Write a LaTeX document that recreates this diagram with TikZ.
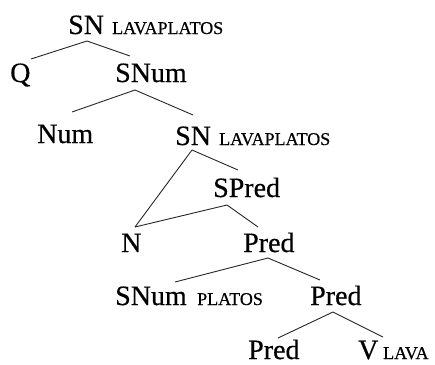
\documentclass[tikz,border=0pt]{standalone}
\usepackage{fontspec}
\setmainfont{Liberation Serif}
\newfontfamily\treefont{Liberation Serif}[FakeBold=0.5]
\begin{document}
\begin{tikzpicture}[x=1pt,y=-1pt,
  lab/.style={inner sep=0pt,anchor=base west,font=\treefont\fontsize{28}{30}\selectfont,text=black},
  sub/.style={inner sep=0pt,anchor=base west,font=\treefont\fontsize{18}{20}\selectfont,text=black},
  edge/.style={draw=black!85,line width=0.9pt}]
\useasboundingbox (0,0) rectangle (435,364);
% nodes
\node[lab] (sn1) at (68,34) {SN};
\node[sub] (sn1s) at (112,34) {LAVAPLATOS};
\node[lab] (q) at (10,82) {Q};
\node[lab] (snum1) at (115,82) {SNum};
\node[lab] (num) at (37,143) {Num};
\node[lab] (sn2) at (175,145) {SN};
\node[sub] (sn2s) at (219,145) {LAVAPLATOS};
\node[lab] (spred) at (213,197) {SPred};
\node[lab] (n) at (121,252) {N};
\node[lab] (pred1) at (243,252) {Pred};
\node[lab] (snum2) at (115,305) {SNum};
\node[sub] (snum2s) at (197,305) {PLATOS};
\node[lab] (pred2) at (310,305) {Pred};
\node[lab] (pred3) at (248,359) {Pred};
\node[lab] (v) at (358,359) {V};
\node[sub] (vs) at (383,359) {LAVA};
% edges
\draw[edge] ([shift={(19,7)}]sn1.base west) -- ([shift={(21,-23)}]q.base west);
\draw[edge] ([shift={(19,7)}]sn1.base west) -- ([shift={(15,-26)}]snum1.base west);
\draw[edge] ([shift={(20,8)}]snum1.base west) -- ([shift={(35,-31)}]num.base west);
\draw[edge] ([shift={(20,8)}]snum1.base west) -- ([shift={(18,-30)}]sn2.base west);
\draw[edge] ([shift={(17,5)}]sn2.base west) -- ([shift={(14,-25)}]n.base west);
\draw[edge] ([shift={(17,5)}]sn2.base west) -- ([shift={(25,-27)}]spred.base west);
\draw[edge] ([shift={(14,8)}]spred.base west) -- ([shift={(14,-25)}]n.base west);
\draw[edge] ([shift={(14,8)}]spred.base west) -- ([shift={(15,-25)}]pred1.base west);
\draw[edge] ([shift={(25,6)}]pred1.base west) -- ([shift={(60,-23)}]snum2.base west);
\draw[edge] ([shift={(25,6)}]pred1.base west) -- ([shift={(10,-25)}]pred2.base west);
\draw[edge] ([shift={(23,7)}]pred2.base west) -- ([shift={(30,-21)}]pred3.base west);
\draw[edge] ([shift={(23,7)}]pred2.base west) -- ([shift={(25,-22)}]v.base west);
\end{tikzpicture}
\end{document}
